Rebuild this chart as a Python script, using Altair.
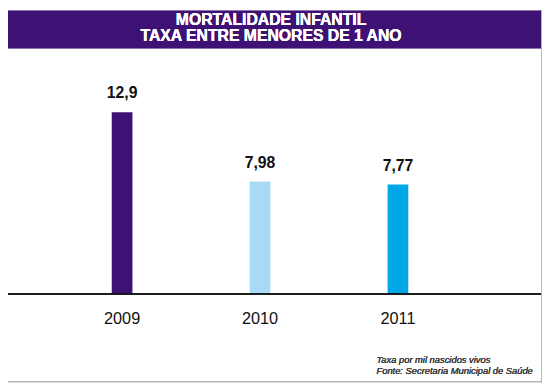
import altair as alt
import pandas as pd

# ---- data ----
years = ["2009", "2010", "2011"]
values = [12.9, 7.98, 7.77]
labels = ["12,9", "7,98", "7,77"]
bar_colors = ["#3d1274", "#a8d9f7", "#00a7e7"]

title_lines = ["MORTALIDADE INFANTIL", "TAXA ENTRE MENORES DE 1 ANO"]
note_lines = ["Taxa por mil nascidos vivos", "Fonte: Secretaria Municipal de Saúde"]

df = pd.DataFrame({"ano": years, "taxa": values, "rotulo": labels})

W, H = 542, 377
FONT = "Liberation Sans"

xscale = alt.Scale(domain=years, range=[45.8, 465.8], paddingInner=0, paddingOuter=0)
yscale = alt.Scale(domain=[0, 12.9], range=[287.5, 103], nice=False, zero=True)

base = alt.Chart(df)

header = alt.Chart(df).mark_rect(color="#3d1274").encode(
    x=alt.value(0), x2=alt.value(W), y=alt.value(0), y2=alt.value(38)
)

t1 = alt.Chart(df).mark_text(
    text=title_lines[0], font=FONT, fontSize=16, fontWeight="bold",
    color="white", align="center", baseline="alphabetic"
).encode(x=alt.value(267), y=alt.value(14))

t2 = alt.Chart(df).mark_text(
    text=title_lines[1], font=FONT, fontSize=16, fontWeight="bold",
    color="white", align="center", baseline="alphabetic"
).encode(x=alt.value(267), y=alt.value(31))

bars = base.mark_bar(size=21).encode(
    x=alt.X("ano:N", scale=xscale, axis=None),
    y=alt.Y("taxa:Q", scale=yscale, axis=None),
    color=alt.Color("ano:N", scale=alt.Scale(domain=years, range=bar_colors), legend=None),
)

vals = base.mark_text(
    font=FONT, fontSize=16, fontWeight="bold", color="#111111",
    align="center", baseline="alphabetic", dy=-14
).encode(
    x=alt.X("ano:N", scale=xscale, axis=None),
    y=alt.Y("taxa:Q", scale=yscale, axis=None),
    text="rotulo:N",
)

yrs = base.mark_text(
    font=FONT, fontSize=16.5, color="#111111", align="center", baseline="alphabetic"
).encode(
    x=alt.X("ano:N", scale=xscale, axis=None),
    y=alt.value(318),
    text="ano:N",
)

baseline = alt.Chart(df).mark_rule(color="#1a1a1a", strokeWidth=1.5).encode(
    y=alt.Y(datum=0, scale=yscale, axis=None),
    x=alt.value(0), x2=alt.value(W),
)

n1 = alt.Chart(df).mark_text(
    text=note_lines[0], font=FONT, fontSize=9.5, fontStyle="italic", fontWeight="normal",
    color="#444444", align="left", baseline="alphabetic"
).encode(x=alt.value(374), y=alt.value(358))

n2 = alt.Chart(df).mark_text(
    text=note_lines[1], font=FONT, fontSize=9.5, fontStyle="italic", fontWeight="normal",
    color="#444444", align="left", baseline="alphabetic"
).encode(x=alt.value(374), y=alt.value(368.7))

border_r = alt.Chart(df).mark_rule(color="#b8b8b8", strokeWidth=1).encode(
    x=alt.value(541.5), y=alt.value(0), y2=alt.value(H)
)
border_b = alt.Chart(df).mark_rule(color="#b8b8b8", strokeWidth=1).encode(
    y=alt.value(376.5), x=alt.value(0), x2=alt.value(W)
)

chart = alt.layer(
    header, t1, t2, bars, vals, yrs, baseline, n1, n2, border_r, border_b
).properties(
    width=W, height=H, autosize=alt.AutoSizeParams(type="none"), padding=0,
    background="white"
).configure_view(stroke=None)

chart.save("out.html", embed_options={"renderer": "svg", "actions": False})
